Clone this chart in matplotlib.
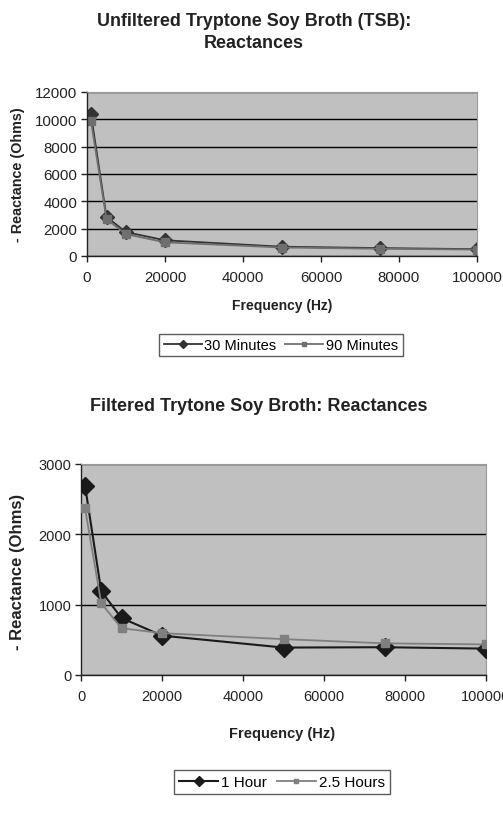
import numpy as np
import matplotlib.pyplot as plt

plt.rcParams['font.family'] = ['Liberation Sans', 'DejaVu Sans']

# data
freq = [1000, 5000, 10000, 20000, 50000, 75000, 100000]
unf_30min = [10400, 2850, 1750, 1150, 680, 580, 500]
unf_90min = [9900, 2700, 1600, 1000, 620, 530, 470]
fil_1hr = [2690, 1190, 810, 560, 390, 395, 375]
fil_25hr = [2370, 1020, 665, 595, 510, 450, 435]

x_ticks = [0, 20000, 40000, 60000, 80000, 100000]

W, H = 503, 828
fig = plt.figure(figsize=(W / 100, H / 100), dpi=100)

plot_bg = '#c0c0c0'
dark = '#1a1a1a'
grey = '#7f7f7f'
txt = '#222222'


def style_axes(ax, ymax, ystep, tick_fs):
    ax.set_facecolor(plot_bg)
    ax.set_xlim(0, 100000)
    ax.set_ylim(0, ymax)
    ax.set_xticks(x_ticks)
    ax.set_yticks(np.arange(0, ymax + 1, ystep))
    ax.grid(axis='y', color='black', linewidth=1.0)
    ax.set_axisbelow(True)
    for s in ['top', 'right']:
        ax.spines[s].set_color('#9a9a9a')
        ax.spines[s].set_linewidth(0.8)
    for s in ['left', 'bottom']:
        ax.spines[s].set_color('#222222')
        ax.spines[s].set_linewidth(1.0)
    ax.tick_params(direction='out', length=4, width=1, labelsize=tick_fs,
                   colors=txt, pad=3)
    ax.tick_params(axis='x', pad=6)


def fx(px):
    return px / W


def fy(py):
    return 1 - py / H


# ---- top chart
ax1 = fig.add_axes([fx(87), fy(257), fx(477 - 87), (257 - 93) / H])
style_axes(ax1, 12000, 2000, 10.8)
l1, = ax1.plot(freq, unf_30min, color='#333333', marker='D', markersize=7,
               linewidth=1.3, markerfacecolor='#333333', markeredgecolor='#333333')
l2, = ax1.plot(freq, unf_90min, color='#6f6f6f', marker='s', markersize=6,
               linewidth=1.3, markerfacecolor='#6f6f6f', markeredgecolor='#6f6f6f')

fig.text(fx(254), fy(21), 'Unfiltered Tryptone Soy Broth (TSB):', ha='center',
         va='center', fontsize=12.9, fontweight='bold', color=txt)
fig.text(fx(254), fy(44), 'Reactances', ha='center', va='center',
         fontsize=12.9, fontweight='bold', color=txt)
fig.text(fx(282), fy(306), 'Frequency (Hz)', ha='center', va='center',
         fontsize=10, fontweight='bold', color=txt)
fig.text(fx(18), fy(175), '- Reactance (Ohms)', ha='center', va='center',
         rotation=90, fontsize=10.4, fontweight='bold', color=txt)

leg1 = fig.legend([l1, l2], ['30 Minutes', '90 Minutes'], loc='center',
                  bbox_to_anchor=(fx(281), fy(346)), ncol=2, frameon=True,
                  fancybox=False, edgecolor='#333333', fontsize=10.5,
                  handlelength=2.6, handletextpad=0.2, columnspacing=0.6,
                  borderpad=0.3, markerscale=0.6)
leg1.get_frame().set_linewidth(1.0)

# ---- bottom chart
ax2 = fig.add_axes([fx(81), fy(676), fx(486 - 81), (676 - 465) / H])
style_axes(ax2, 3000, 1000, 10.5)
m1, = ax2.plot(freq, fil_1hr, color=dark, marker='D', markersize=9,
               linewidth=1.5, markerfacecolor=dark, markeredgecolor=dark, zorder=3)
m2, = ax2.plot(freq, fil_25hr, color=grey, marker='s', markersize=6,
               linewidth=1.3, markerfacecolor=grey, markeredgecolor=grey, zorder=3)

fig.text(fx(259), fy(407), 'Filtered Trytone Soy Broth: Reactances', ha='center',
         va='center', fontsize=13, fontweight='bold', color=txt)
fig.text(fx(282), fy(734), 'Frequency (Hz)', ha='center', va='center',
         fontsize=10.5, fontweight='bold', color=txt)
fig.text(fx(18), fy(572), '- Reactance (Ohms)', ha='center', va='center',
         rotation=90, fontsize=12, fontweight='bold', color=txt)

leg2 = fig.legend([m1, m2], ['1 Hour', '2.5 Hours'], loc='center',
                  bbox_to_anchor=(fx(282), fy(783)), ncol=2, frameon=True,
                  fancybox=False, edgecolor='#333333', fontsize=11,
                  handlelength=2.6, handletextpad=0.2, columnspacing=0.6,
                  borderpad=0.3, markerscale=0.6)
leg2.get_frame().set_linewidth(1.0)

fig.savefig('out.png', dpi=100, facecolor='white')
